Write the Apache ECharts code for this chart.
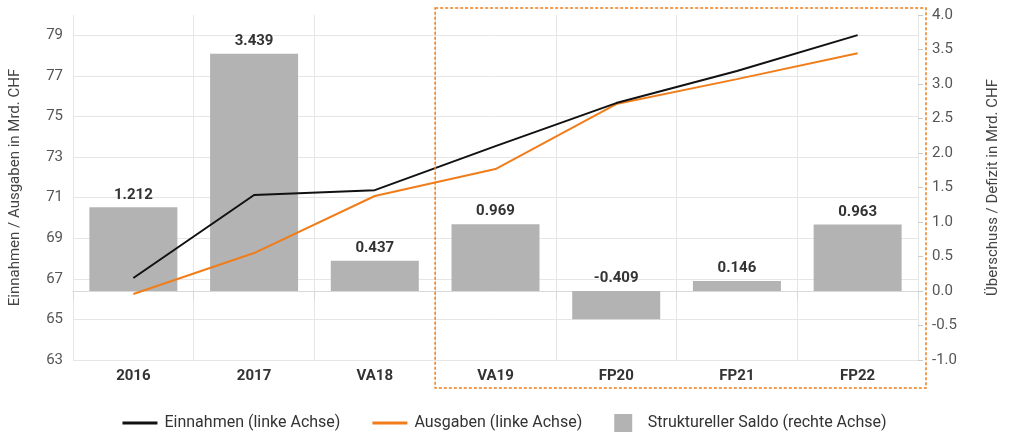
<!DOCTYPE html>
<html>
<head>
<meta charset="utf-8">
<script src="https://cdn.jsdelivr.net/npm/echarts@6/dist/echarts.min.js"></script>
<style>
  html, body { margin: 0; padding: 0; background: #fff; }
  #chartmain { width: 1009px; height: 442px; }
</style>
</head>
<body>
<div id="chartmain"></div>
<script>
var categories = ["2016", "2017", "VA18", "VA19", "FP20", "FP21", "FP22"];
var einnahmen = [67.04, 71.13, 71.37, 73.54, 75.66, 77.24, 79.01]; // linke Achse
var ausgaben = [66.25, 68.27, 71.08, 72.41, 75.61, 76.84, 78.12]; // linke Achse
var saldo = [1.212, 3.439, 0.437, 0.969, -0.409, 0.146, 0.963]; // rechte Achse

var font = "Roboto, 'DejaVu Sans', sans-serif";

var option = {
  animation: false,
  textStyle: { fontFamily: font },
  grid: { left: 70, right: 84, top: 15, bottom: 82 },
  legend: {
    bottom: 5,
    left: "center",
    itemWidth: 35,
    itemHeight: 18,
    itemGap: 32,
    textStyle: { fontSize: 16, color: "#333", fontFamily: font, padding: [0, 0, 0, 2] },
    data: [
      { name: "Einnahmen (linke Achse)", icon: "path://M0,0H35V3H0Z" },
      { name: "Ausgaben (linke Achse)", icon: "path://M0,0H35V3H0Z" },
      { name: "Struktureller Saldo (rechte Achse)", icon: "path://M0,0H10V10H0Z" }
    ]
  },
  xAxis: {
    type: "category",
    data: categories,
    axisLine: { lineStyle: { color: "#d9d9d9" } },
    axisTick: { show: true, length: 9, lineStyle: { color: "#d9d9d9" } },
    axisLabel: { color: "#333", fontSize: 15, fontWeight: "bold", margin: 9 },
    splitLine: { show: true, lineStyle: { color: "#e6e6e6" } }
  },
  yAxis: [
    {
      type: "value",
      min: 63,
      max: 80,
      interval: 2,
      name: "Einnahmen / Ausgaben in Mrd. CHF",
      nameLocation: "middle",
      nameGap: 50,
      nameTextStyle: { fontSize: 15, color: "#444" },
      axisLine: { show: false },
      axisTick: { show: false },
      axisLabel: { color: "#555", fontSize: 15, margin: 10, showMaxLabel: false },
      splitLine: { show: true, showMaxLine: false, lineStyle: { color: "#e6e6e6" } }
    },
    {
      type: "value",
      min: -1,
      max: 4,
      interval: 0.5,
      name: "Überschuss / Defizit in Mrd. CHF",
      nameLocation: "middle",
      nameGap: 68,
      nameTextStyle: { fontSize: 15, color: "#444" },
      axisLine: { show: false },
      axisTick: { show: true, length: 5, lineStyle: { color: "#cccccc" } },
      axisLabel: {
        color: "#555",
        fontSize: 15,
        margin: 14,
        formatter: function(v) { return v.toFixed(1); }
      },
      splitLine: { show: false }
    }
  ],
  series: [
    {
      name: "Struktureller Saldo (rechte Achse)",
      type: "bar",
      yAxisIndex: 1,
      data: saldo,
      barWidth: 88,
      z: 1,
      itemStyle: { color: "#b3b3b3" },
      label: {
        show: true,
        position: "top",
        distance: 5,
        color: "#333",
        fontSize: 15,
        fontWeight: "bold",
        formatter: function(p) { return p.value.toFixed(3); }
      }
    },
    {
      name: "Einnahmen (linke Achse)",
      type: "line",
      yAxisIndex: 0,
      data: einnahmen,
      symbol: "none",
      z: 3,
      lineStyle: { color: "#111", width: 2 },
      itemStyle: { color: "#111" }
    },
    {
      name: "Ausgaben (linke Achse)",
      type: "line",
      yAxisIndex: 0,
      data: ausgaben,
      symbol: "none",
      z: 2,
      lineStyle: { color: "#f07d1a", width: 2 },
      itemStyle: { color: "#f07d1a" }
    }
  ]
};

var myChart = echarts.init(document.getElementById("chartmain"));
myChart.setOption(option);

// gestrichelter Rahmen um die Planjahre (VA19 - FP22)
var xLeft = (myChart.convertToPixel({ xAxisIndex: 0 }, "VA18") + myChart.convertToPixel({ xAxisIndex: 0 }, "VA19")) / 2;
var xRight = 1009 - 84 + 1;
myChart.setOption({
  graphic: [
    {
      type: "rect",
      shape: { x: xLeft, y: 8, width: xRight - xLeft, height: 380 },
      style: { fill: "none", stroke: "#f07d1a", lineWidth: 1.5, lineDash: [3, 2] },
      z: 10,
      silent: true
    }
  ]
});
</script>
</body>
</html>
